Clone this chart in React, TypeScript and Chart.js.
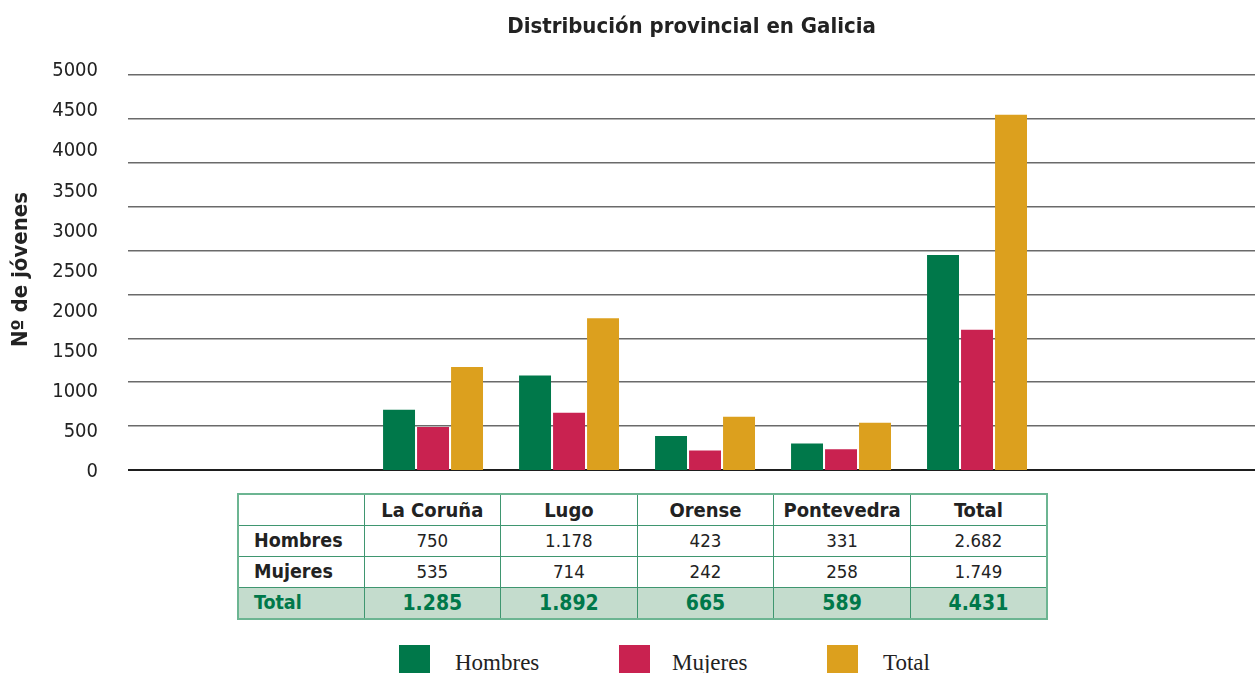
import React, { useEffect, useRef } from "react";
import { Chart, registerables } from "chart.js";

Chart.register(...registerables);

const categories = ["La Coruña", "Lugo", "Orense", "Pontevedra", "Total"];
const hombres = [750, 1178, 423, 331, 2682];
const mujeres = [535, 714, 242, 258, 1749];
const totales = [1285, 1892, 665, 589, 4431];
const seriesNames = ["Hombres", "Mujeres", "Total"];
const seriesColors = ["#00784a", "#c92250", "#dca01e"];
const yMax = 5000;
const yStep = 500;
const gridLineCount = 10;

const SANS = "'Liberation Sans Narrow', 'DejaVu Sans Condensed', 'Open Sans', sans-serif";
const SERIF = "'Liberation Serif', 'DejaVu Serif', serif";

const fmt = (n: number) => String(n).replace(/\B(?=(\d{3})+(?!\d))/g, ".");

export default function App() {
  const ref = useRef<HTMLCanvasElement | null>(null);

  useEffect(() => {
    if (!ref.current) return;
    const series = [hombres, mujeres, totales];
    const chart = new Chart(ref.current, {
      type: "bar",
      data: {
        datasets: series.map((vals, s) => ({
          label: seriesNames[s],
          data: vals.map((v, i) => ({ x: i, y: v })),
          backgroundColor: seriesColors[s],
          borderWidth: 0,
          categoryPercentage: 0.75,
          barPercentage: 0.94,
          xAxisID: "x",
          yAxisID: "y",
        })),
      },
      options: {
        animation: false,
        responsive: false,
        maintainAspectRatio: false,
        devicePixelRatio: 1,
        layout: { padding: { top: 0, bottom: 15.8, left: 0, right: 0 } },
        plugins: {
          legend: { display: false },
          tooltip: { enabled: false },
          title: {
            display: true,
            text: "Distribución provincial en Galicia",
            fullSize: false,
            color: "#222",
            font: { family: SANS, size: 22, weight: "bold", lineHeight: 1.2 },
            padding: { top: 14, bottom: 28.6 },
          },
        },
        scales: {
          x: { type: "linear", min: -2.243, max: 6.044, display: false, offset: false },
          y: {
            type: "linear",
            position: "left",
            min: 0,
            max: yMax,
            ticks: {
              stepSize: yStep,
              color: "#222",
              padding: 30,
              labelOffset: 2,
              font: { family: SANS, size: 20 },
              callback: (v: any) => String(v),
            },
            grid: { display: false, drawTicks: false },
            border: { display: false },
            title: {
              display: true,
              text: "Nº de jóvenes",
              color: "#222",
              font: { family: SANS, size: 22, weight: "bold", lineHeight: 1 },
              padding: { top: 10, bottom: 0 },
            },
            afterFit: (s: any) => {
              s.width = 128;
            },
          },
          yg: {
            type: "linear",
            position: "right",
            min: 0,
            max: 9.137,
            afterBuildTicks: (s: any) => {
              s.ticks = Array.from({ length: gridLineCount }, (_, i) => ({ value: i }));
            },
            ticks: { display: false },
            grid: {
              drawTicks: false,
              color: (ctx: any) => (ctx.tick && ctx.tick.value === 0 ? "#1e1e1e" : "#6a6a6a"),
              lineWidth: (ctx: any) => (ctx.tick && ctx.tick.value === 0 ? 2 : 1.6),
            },
            border: { display: false },
            afterFit: (s: any) => {
              s.width = 0;
            },
          },
        },
      } as any,
    });
    return () => chart.destroy();
  }, []);

  const border = "1.5px solid #3f9670";
  const cell: React.CSSProperties = {
    border,
    padding: 0,
    height: 30,
    textAlign: "center",
    fontFamily: SANS,
    fontSize: 18.5,
    color: "#222",
    lineHeight: "30px",
  };
  const rows = [
    { name: "Hombres", vals: hombres, total: false },
    { name: "Mujeres", vals: mujeres, total: false },
    { name: "Total", vals: totales, total: true },
  ];

  return (
    <div style={{ position: "absolute", left: 0, top: 0, width: 1255, height: 673, overflow: "hidden", background: "#fff" }}>
      <canvas ref={ref} width={1255} height={512} style={{ position: "absolute", left: 0, top: 0 }} />
      <table
        style={{
          position: "absolute",
          left: 237,
          top: 493,
          width: 809,
          borderCollapse: "collapse",
          tableLayout: "fixed",
          border: "2px solid #6cb592",
          background: "#fff",
        }}
      >
        <colgroup>
          <col style={{ width: 126 }} />
          {categories.map((c) => (
            <col key={c} style={{ width: 136.6 }} />
          ))}
        </colgroup>
        <tbody>
          <tr>
            <td style={cell}></td>
            {categories.map((c) => (
              <td key={c} style={{ ...cell, fontWeight: "bold", fontSize: 20 }}>
                {c}
              </td>
            ))}
          </tr>
          {rows.map((r) => (
            <tr key={r.name} style={{ background: r.total ? "#c4dccd" : "#fff" }}>
              <td
                style={{
                  ...cell,
                  textAlign: "left",
                  paddingLeft: 15,
                  fontWeight: "bold",
                  fontSize: 19.5,
                  color: r.total ? "#00784a" : "#222",
                }}
              >
                {r.name}
              </td>
              {r.vals.map((v, i) => (
                <td
                  key={i}
                  style={{
                    ...cell,
                    fontWeight: r.total ? "bold" : "normal",
                    fontSize: r.total ? 21 : 18.5,
                    color: r.total ? "#00784a" : "#222",
                  }}
                >
                  {fmt(v)}
                </td>
              ))}
            </tr>
          ))}
        </tbody>
      </table>
      {seriesNames.map((n, i) => (
        <div key={n} style={{ position: "absolute", top: 645, left: [399, 619, 827][i], height: 40, whiteSpace: "nowrap" }}>
          <div style={{ position: "absolute", left: 0, top: 0, width: 31, height: 31, background: seriesColors[i] }} />
          <div
            style={{
              position: "absolute",
              left: [56, 53, 56][i],
              top: 3,
              fontFamily: SERIF,
              fontSize: 23,
              color: "#222",
              lineHeight: "30px",
            }}
          >
            {n}
          </div>
        </div>
      ))}
    </div>
  );
}
